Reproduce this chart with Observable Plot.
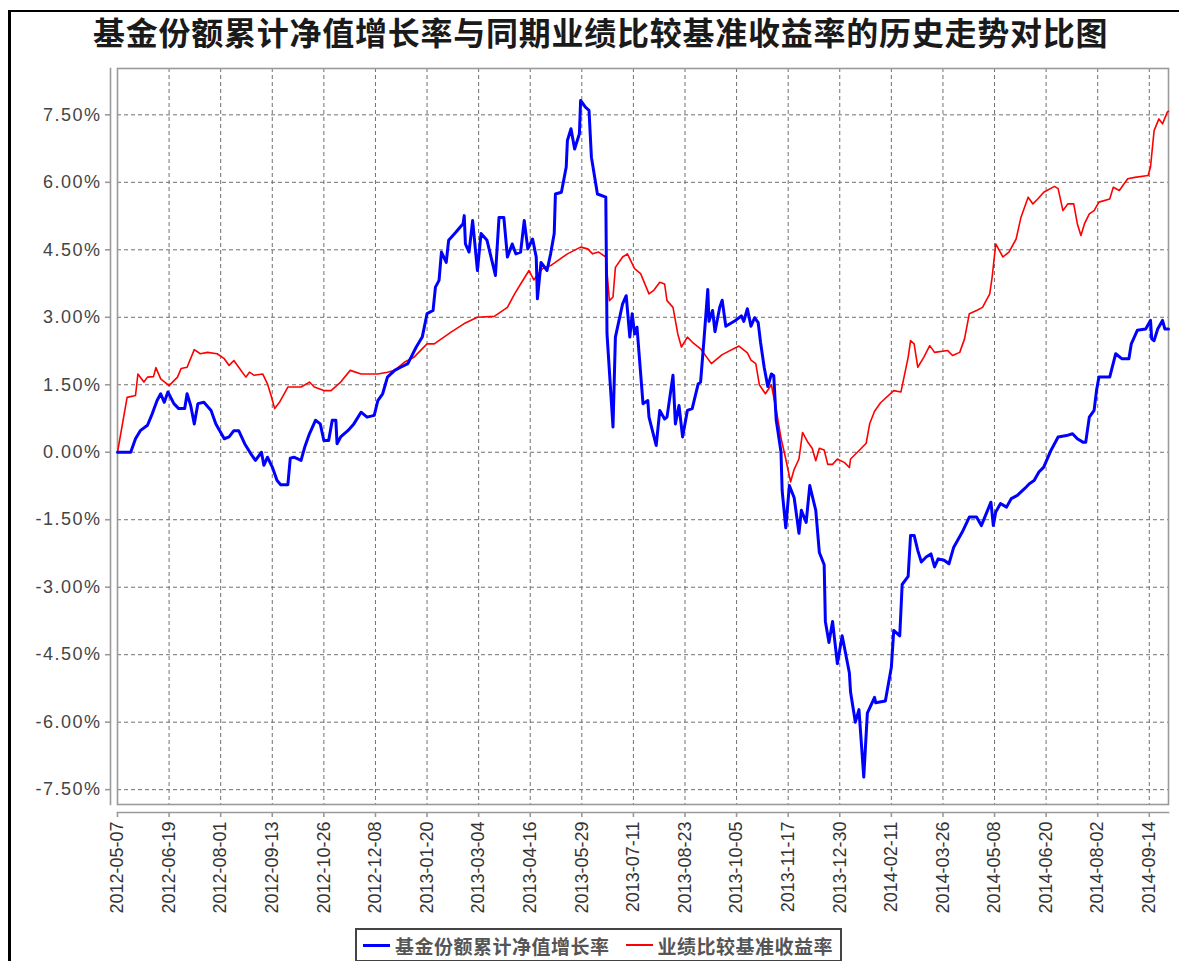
<!DOCTYPE html>
<html>
<head>
<meta charset="utf-8">
<script src="https://cdn.jsdelivr.net/npm/d3@7"></script>
<script src="https://cdn.jsdelivr.net/npm/@observablehq/plot@0.6"></script>
<style>
  html, body { margin: 0; padding: 0; background: #fff; }
  #wrap { position: relative; width: 1179px; height: 961px; overflow: hidden; background: #fff; }
  #outer { position: absolute; left: 8px; top: 10px; width: 1300px; height: 1100px;
           border-left: 3px solid #000; border-top: 2px solid #000; box-sizing: border-box; }
  #title { position: absolute; left: 93px; top: 9px; white-space: nowrap;
           font-family: "Noto Sans CJK SC", sans-serif; font-weight: 700; font-size: 32px;
           letter-spacing: 0.75px; line-height: 44px; color: #1a1a1a; }
  #chart { position: absolute; left: 0; top: 60px; }
  #legend { position: absolute; left: 355px; top: 928px; width: 487px; height: 34px;
            border: 2px solid #444; box-sizing: border-box; display: flex; align-items: center;
            font-family: "Noto Sans CJK SC", sans-serif; font-weight: 700; font-size: 19px;
            letter-spacing: 0.5px; color: #555; }
  .sw { display: inline-block; width: 27px; margin-right: 5px; }
  #chart svg g[aria-label="y-axis tick label"] text { letter-spacing: 1.5px; }
</style>
</head>
<body>
<div id="wrap">
  <div id="outer"></div>
  <div id="title"></div>
  <div id="chart"></div>
  <div id="legend"></div>
</div>
<script>
const chartTitle = "基金份额累计净值增长率与同期业绩比较基准收益率的历史走势对比图";
const seriesNames = ["基金份额累计净值增长率", "业绩比较基准收益率"];
const seriesColors = ["#0000ff", "#ff0000"];

const xTickLabels = ["2012-05-07","2012-06-19","2012-08-01","2012-09-13","2012-10-26","2012-12-08",
  "2013-01-20","2013-03-04","2013-04-16","2013-05-29","2013-07-11","2013-08-23","2013-10-05",
  "2013-11-17","2013-12-30","2014-02-11","2014-03-26","2014-05-08","2014-06-20","2014-08-02","2014-09-14"];
const xDomain = ["2012-05-07", "2014-09-30"];
const yTicks = [-7.5, -6, -4.5, -3, -1.5, 0, 1.5, 3, 4.5, 6, 7.5];
const yDomain = [-7.83, 8.53];

// 基金份额累计净值增长率 (%)
const fundSeries = [
["2012-05-07",0.00],["2012-05-18",0.00],["2012-05-22",0.30],["2012-05-26",0.48],["2012-06-01",0.60],
["2012-06-05",0.86],["2012-06-09",1.15],["2012-06-12",1.30],["2012-06-15",1.11],["2012-06-18",1.34],
["2012-06-23",1.08],["2012-06-27",0.97],["2012-07-02",0.97],["2012-07-04",1.30],["2012-07-07",1.04],
["2012-07-10",0.63],["2012-07-13",1.08],["2012-07-18",1.11],["2012-07-24",0.93],["2012-07-28",0.63],
["2012-08-04",0.30],["2012-08-08",0.34],["2012-08-12",0.48],["2012-08-16",0.48],["2012-08-21",0.19],
["2012-08-26",-0.03],["2012-08-30",-0.18],["2012-09-04",0.00],["2012-09-06",-0.29],["2012-09-09",-0.11],
["2012-09-13",-0.33],["2012-09-17",-0.63],["2012-09-20",-0.72],["2012-09-26",-0.72],["2012-09-28",-0.13],
["2012-10-01",-0.11],["2012-10-07",-0.18],["2012-10-10",0.11],["2012-10-14",0.41],["2012-10-19",0.71],
["2012-10-23",0.63],["2012-10-26",0.26],["2012-10-30",0.26],["2012-11-02",0.71],["2012-11-05",0.71],
["2012-11-06",0.19],["2012-11-09",0.34],["2012-11-15",0.48],["2012-11-20",0.63],["2012-11-26",0.89],
["2012-12-01",0.78],["2012-12-07",0.82],["2012-12-10",1.15],["2012-12-14",1.30],["2012-12-18",1.67],
["2012-12-24",1.82],["2012-12-29",1.89],["2013-01-04",1.97],["2013-01-11",2.34],["2013-01-16",2.56],
["2013-01-20",3.08],["2013-01-25",3.15],["2013-01-27",3.67],["2013-01-30",3.82],["2013-02-01",4.45],
["2013-02-05",4.22],["2013-02-07",4.71],["2013-02-13",4.89],["2013-02-19",5.08],["2013-02-20",5.26],
["2013-02-21",4.63],["2013-02-24",4.45],["2013-02-27",5.15],["2013-03-03",4.04],["2013-03-06",4.86],
["2013-03-11",4.71],["2013-03-18",3.93],["2013-03-21",5.22],["2013-03-25",5.22],["2013-03-28",4.34],
["2013-04-01",4.63],["2013-04-04",4.41],["2013-04-08",4.45],["2013-04-11",5.15],["2013-04-14",4.52],
["2013-04-18",4.74],["2013-04-21",4.34],["2013-04-22",3.41],["2013-04-25",4.22],["2013-04-30",4.04],
["2013-05-03",4.41],["2013-05-06",4.86],["2013-05-07",5.74],["2013-05-12",5.78],["2013-05-16",6.34],
["2013-05-17",6.93],["2013-05-20",7.19],["2013-05-23",6.74],["2013-05-27",7.08],["2013-05-28",7.82],
["2013-06-01",7.67],["2013-06-04",7.60],["2013-06-06",6.56],["2013-06-11",5.74],["2013-06-18",5.67],
["2013-06-19",2.63],["2013-06-24",0.56],["2013-06-26",2.56],["2013-07-02",3.30],["2013-07-05",3.48],
["2013-07-08",2.56],["2013-07-10",3.08],["2013-07-12",2.63],["2013-07-14",2.78],["2013-07-19",1.08],
["2013-07-23",1.15],["2013-07-24",0.78],["2013-07-30",0.15],["2013-08-02",0.93],["2013-08-06",0.74],
["2013-08-08",0.78],["2013-08-13",1.71],["2013-08-15",0.63],["2013-08-18",1.04],["2013-08-21",0.34],
["2013-08-25",0.93],["2013-08-29",0.97],["2013-09-03",1.52],["2013-09-05",1.56],["2013-09-08",2.56],
["2013-09-11",3.62],["2013-09-12",2.91],["2013-09-15",3.15],["2013-09-17",2.68],["2013-09-21",3.23],
["2013-09-23",3.38],["2013-09-26",2.80],["2013-10-03",2.91],["2013-10-09",3.03],["2013-10-11",2.91],
["2013-10-14",3.19],["2013-10-17",2.80],["2013-10-20",2.99],["2013-10-23",2.88],["2013-10-25",2.44],
["2013-10-28",1.89],["2013-10-31",1.46],["2013-11-03",1.74],["2013-11-05",1.70],["2013-11-07",0.72],
["2013-11-11",0.01],["2013-11-12",-0.86],["2013-11-15",-1.68],["2013-11-18",-0.74],["2013-11-22",-1.01],
["2013-11-26",-1.80],["2013-11-28",-1.29],["2013-12-02",-1.56],["2013-12-05",-0.74],["2013-12-10",-1.29],
["2013-12-13",-2.23],["2013-12-17",-2.50],["2013-12-18",-3.76],["2013-12-21",-4.23],["2013-12-24",-3.76],
["2013-12-28",-4.70],["2014-01-01",-4.08],["2014-01-07",-4.90],["2014-01-08",-5.33],["2014-01-12",-6.00],
["2014-01-15",-5.72],["2014-01-19",-7.22],["2014-01-22",-5.80],["2014-01-28",-5.45],["2014-01-29",-5.57],
["2014-02-06",-5.53],["2014-02-11",-4.78],["2014-02-13",-3.96],["2014-02-18",-4.08],["2014-02-20",-2.94],
["2014-02-25",-2.76],["2014-02-27",-1.85],["2014-03-02",-1.85],["2014-03-05",-2.18],["2014-03-08",-2.44],
["2014-03-12",-2.33],["2014-03-16",-2.26],["2014-03-19",-2.55],["2014-03-22",-2.37],["2014-03-27",-2.40],
["2014-03-31",-2.48],["2014-04-04",-2.11],["2014-04-11",-1.78],["2014-04-17",-1.44],["2014-04-23",-1.44],
["2014-04-27",-1.63],["2014-05-01",-1.37],["2014-05-05",-1.11],["2014-05-07",-1.63],["2014-05-09",-1.33],
["2014-05-13",-1.14],["2014-05-18",-1.22],["2014-05-22",-1.03],["2014-05-27",-0.96],["2014-06-02",-0.81],
["2014-06-06",-0.70],["2014-06-10",-0.63],["2014-06-14",-0.44],["2014-06-18",-0.33],["2014-06-24",0.04],
["2014-06-30",0.34],["2014-07-07",0.37],["2014-07-12",0.41],["2014-07-16",0.30],["2014-07-21",0.22],
["2014-07-23",0.22],["2014-07-26",0.78],["2014-07-30",0.93],["2014-08-01",1.37],["2014-08-03",1.67],
["2014-08-12",1.67],["2014-08-17",2.19],["2014-08-22",2.08],["2014-08-28",2.08],["2014-08-30",2.41],
["2014-09-04",2.71],["2014-09-11",2.74],["2014-09-15",2.93],["2014-09-16",2.52],["2014-09-18",2.48],
["2014-09-21",2.74],["2014-09-25",2.93],["2014-09-27",2.74],["2014-09-30",2.74]
];

// 业绩比较基准收益率 (%)
const benchSeries = [
["2012-05-07",0.00],["2012-05-15",1.22],["2012-05-22",1.26],["2012-05-24",1.74],["2012-05-29",1.56],
["2012-06-01",1.67],["2012-06-06",1.68],["2012-06-08",1.88],["2012-06-12",1.63],["2012-06-19",1.48],
["2012-06-26",1.67],["2012-06-29",1.86],["2012-07-04",1.89],["2012-07-10",2.28],["2012-07-15",2.19],
["2012-07-21",2.22],["2012-07-29",2.19],["2012-08-04",2.08],["2012-08-08",1.93],["2012-08-12",2.04],
["2012-08-16",1.89],["2012-08-22",1.67],["2012-08-25",1.78],["2012-08-29",1.71],["2012-09-05",1.74],
["2012-09-09",1.52],["2012-09-12",1.26],["2012-09-15",0.97],["2012-09-19",1.11],["2012-09-26",1.45],
["2012-10-07",1.45],["2012-10-14",1.56],["2012-10-18",1.45],["2012-10-26",1.37],["2012-11-01",1.37],
["2012-11-09",1.56],["2012-11-17",1.82],["2012-11-26",1.74],["2012-12-10",1.74],["2012-12-18",1.78],
["2012-12-24",1.82],["2013-01-01",2.00],["2013-01-09",2.11],["2013-01-20",2.41],["2013-01-26",2.41],
["2013-02-09",2.67],["2013-02-20",2.86],["2013-03-03",3.00],["2013-03-17",3.02],["2013-03-28",3.22],
["2013-04-03",3.52],["2013-04-08",3.74],["2013-04-15",4.04],["2013-04-19",3.83],["2013-04-26",4.08],
["2013-05-03",4.15],["2013-05-17",4.41],["2013-05-28",4.56],["2013-06-03",4.52],["2013-06-07",4.41],
["2013-06-12",4.45],["2013-06-18",4.34],["2013-06-21",3.37],["2013-06-24",3.45],["2013-06-26",4.11],
["2013-07-02",4.34],["2013-07-06",4.41],["2013-07-12",4.08],["2013-07-17",3.97],["2013-07-24",3.52],
["2013-07-28",3.60],["2013-08-02",3.78],["2013-08-06",3.74],["2013-08-08",3.37],["2013-08-13",3.22],
["2013-08-17",2.63],["2013-08-20",2.34],["2013-08-25",2.56],["2013-08-29",2.45],["2013-09-05",2.30],
["2013-09-14",1.97],["2013-09-23",2.17],["2013-10-07",2.36],["2013-10-14",2.21],["2013-10-17",2.05],
["2013-10-21",1.97],["2013-10-24",1.50],["2013-10-29",1.30],["2013-11-03",1.50],["2013-11-07",0.95],
["2013-11-11",0.32],["2013-11-15",-0.15],["2013-11-19",-0.66],["2013-11-22",-0.38],["2013-11-26",-0.15],
["2013-11-29",0.44],["2013-12-03",0.24],["2013-12-07",0.09],["2013-12-10",-0.19],["2013-12-13",0.09],
["2013-12-17",0.05],["2013-12-20",-0.27],["2013-12-24",-0.27],["2013-12-28",-0.15],["2014-01-03",-0.23],
["2014-01-07",-0.34],["2014-01-08",-0.15],["2014-01-17",0.09],["2014-01-21",0.20],["2014-01-24",0.64],
["2014-01-28",0.91],["2014-02-02",1.10],["2014-02-13",1.37],["2014-02-19",1.34],["2014-02-25",2.11],
["2014-02-27",2.48],["2014-03-02",2.41],["2014-03-05",1.89],["2014-03-10",2.11],["2014-03-15",2.37],
["2014-03-19",2.22],["2014-03-30",2.26],["2014-04-03",2.15],["2014-04-09",2.22],["2014-04-13",2.52],
["2014-04-17",3.08],["2014-04-23",3.15],["2014-04-28",3.22],["2014-05-04",3.52],["2014-05-06",3.89],
["2014-05-09",4.63],["2014-05-15",4.34],["2014-05-20",4.45],["2014-05-26",4.74],["2014-05-30",5.22],
["2014-06-05",5.67],["2014-06-09",5.52],["2014-06-13",5.63],["2014-06-18",5.78],["2014-06-27",5.91],
["2014-06-30",5.86],["2014-07-04",5.37],["2014-07-08",5.52],["2014-07-13",5.52],["2014-07-16",5.08],
["2014-07-19",4.82],["2014-07-22",5.08],["2014-07-26",5.30],["2014-07-30",5.37],["2014-08-03",5.56],
["2014-08-12",5.63],["2014-08-15",5.89],["2014-08-20",5.82],["2014-08-27",6.08],["2014-09-02",6.11],
["2014-09-13",6.15],["2014-09-15",6.34],["2014-09-18",7.15],["2014-09-22",7.41],["2014-09-25",7.30],
["2014-09-29",7.56],["2014-09-30",7.58]
];

const parse = d3.utcParse("%Y-%m-%d");
const toRows = (arr) => arr.map(([d, v]) => ({date: parse(d), value: v}));
const fund = toRows(fundSeries);
const bench = toRows(benchSeries);
const xTicks = xTickLabels.map(parse);
const fmtDate = d3.utcFormat("%Y-%m-%d");

document.getElementById("title").textContent = chartTitle;

const gridStyle = {stroke: "#707070", strokeOpacity: 1, strokeWidth: 1, strokeDasharray: "4,3"};
const lineColor = "#9a9a9a";

const chart = Plot.plot({
  width: 1179,
  height: 870,
  marginLeft: 117,
  marginRight: 11,
  marginTop: 8,
  marginBottom: 126,
  style: {fontFamily: "'Liberation Sans', Arial, sans-serif", background: "transparent", overflow: "visible"},
  x: {type: "utc", domain: xDomain.map(parse), label: null},
  y: {domain: yDomain, label: null},
  marks: [
    Plot.gridX(xTicks, {...gridStyle}),
    Plot.gridY(yTicks, {...gridStyle}),
    Plot.frame({stroke: lineColor, strokeWidth: 1.6}),
    Plot.frame({anchor: "left", dx: -7, stroke: lineColor, strokeWidth: 1.6}),
    Plot.frame({anchor: "bottom", dy: 8, stroke: lineColor, strokeWidth: 1.6}),
    Plot.axisY(yTicks, {
      anchor: "left", label: null, dx: -7, tickSize: 5, tickPadding: 4,
      tickFormat: (d) => d.toFixed(2) + "%",
      fontSize: 18, fill: "#444", stroke: lineColor, strokeWidth: 1.6
    }),
    Plot.axisX(xTicks, {
      anchor: "bottom", label: null, dy: 8, tickSize: 5, tickPadding: 4, tickRotate: -90,
      tickFormat: fmtDate, fontSize: 18, fill: "#333", stroke: lineColor, strokeWidth: 1.6
    }),
    Plot.line(bench, {x: "date", y: "value", stroke: seriesColors[1], strokeWidth: 1.6}),
    Plot.line(fund, {x: "date", y: "value", stroke: seriesColors[0], strokeWidth: 3})
  ]
});
document.getElementById("chart").appendChild(chart);

const legend = document.getElementById("legend");
seriesNames.forEach((name, i) => {
  const item = document.createElement("span");
  item.style.display = "inline-flex";
  item.style.alignItems = "center";
  item.style.marginLeft = i === 0 ? "6px" : "16px";
  const sw = document.createElement("span");
  sw.className = "sw";
  sw.style.height = i === 0 ? "3px" : "2px";
  sw.style.background = seriesColors[i];
  const label = document.createElement("span");
  label.textContent = name;
  item.appendChild(sw);
  item.appendChild(label);
  legend.appendChild(item);
});
</script>
</body>
</html>
